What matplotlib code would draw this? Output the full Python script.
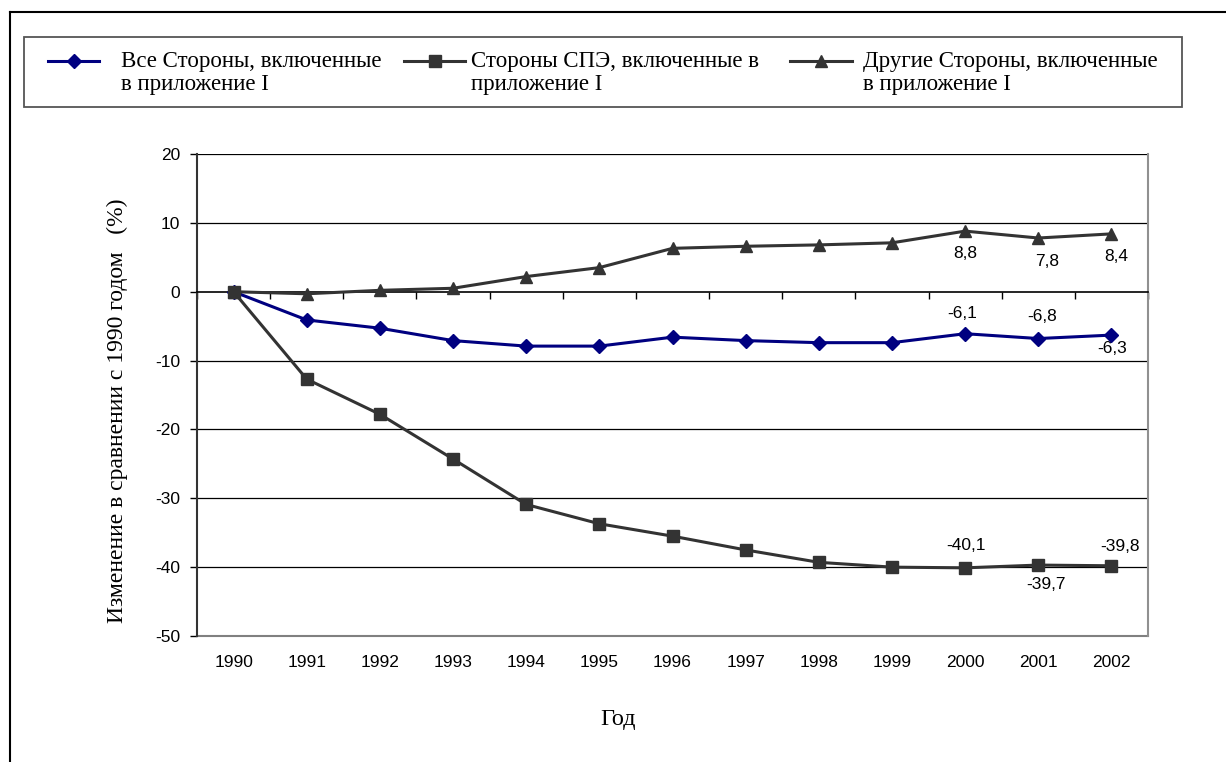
import numpy as np
import matplotlib.pyplot as plt
from matplotlib.lines import Line2D
from matplotlib.patches import Rectangle

# --------------------------------------------------------------------------- #
# Data
# --------------------------------------------------------------------------- #
years = ['1990', '1991', '1992', '1993', '1994', '1995', '1996',
         '1997', '1998', '1999', '2000', '2001', '2002']

allParties = [0.0, -4.1, -5.3, -7.1, -7.9, -7.9, -6.6, -7.1, -7.4, -7.4, -6.1, -6.8, -6.3]
eitParties = [0.0, -12.7, -17.8, -24.3, -30.9, -33.7, -35.5, -37.5, -39.3, -40.0, -40.1, -39.7, -39.8]
otherParties = [0.0, -0.3, 0.2, 0.5, 2.2, 3.5, 6.3, 6.6, 6.8, 7.1, 8.8, 7.8, 8.4]

seriesLabels = [['Все Стороны, включенные', 'в приложение I'],
                ['Стороны СПЭ, включенные в', 'приложение I'],
                ['Другие Стороны, включенные', 'в приложение I']]

# labelled points: (series, index, text)
pointLabels = [(otherParties, 10, '8,8'),
               (otherParties, 11, '7,8'),
               (otherParties, 12, '8,4'),
               (allParties, 10, '-6,1'),
               (allParties, 11, '-6,8'),
               (allParties, 12, '-6,3'),
               (eitParties, 10, '-40,1'),
               (eitParties, 11, '-39,7'),
               (eitParties, 12, '-39,8')]
# label offsets from the marker, in pixels (dx, dy upward)
pointOffsets = [(0, -22), (9, -23), (5, -23),
                (-3, 20), (4, 22), (1, -13),
                (1, 22), (8, -19), (9, 19)]

# --------------------------------------------------------------------------- #
# Plot
# --------------------------------------------------------------------------- #
plt.rcParams['axes.unicode_minus'] = False;
serif = 'Liberation Serif';
sans = 'Liberation Sans';
W = 1226.0;
H = 762.0;

fig = plt.figure(figsize=(12.26, 7.62), dpi=100);
ax = fig.add_axes([197/W, 1-636/H, (1148-197)/W, (636-154)/H]);

x = np.arange(len(years));
dark = '#333333';
navy = '#000080';

lines = [];
lines.append(ax.plot(x, allParties, color=navy, lw=2.2, marker='D', ms=7, zorder=4)[0]);
lines.append(ax.plot(x, eitParties, color=dark, lw=2.2, marker='s', ms=9, zorder=4)[0]);
lines.append(ax.plot(x, otherParties, color=dark, lw=2.2, marker='^', ms=9, zorder=4)[0]);

for (ser, i, txt), (dx, dy) in zip(pointLabels, pointOffsets):
  ax.annotate(txt, (x[i], ser[i]), xytext=(dx*0.72, dy*0.72), textcoords='offset points',
              ha='center', va='center', fontsize=12.5, family=sans);

ax.set_xlim(-0.5, len(years)-0.5);
ax.set_ylim(-50, 20);
ax.set_yticks(np.arange(-50, 21, 10));
for v in np.arange(-40, 21, 10):
  if v != 0:
    ax.axhline(v, color='black', lw=0.9, zorder=1);

# category axis crossing at zero, ticks between categories
ax.spines['bottom'].set_position(('data', 0));
ax.spines['bottom'].set_color('black');
ax.spines['bottom'].set_linewidth(1.2);
ax.set_xticks(np.arange(-0.5, len(years), 1.0));
ax.tick_params(axis='x', direction='out', length=5, width=1, labelbottom=False);

# tick labels at the bottom of the plot area
sec = ax.secondary_xaxis(0.0);
sec.set_xticks(x, years);
sec.tick_params(length=0, pad=14, labelsize=12.5);
for t in sec.get_xticklabels():
  t.set_family(sans);
sec.spines['bottom'].set_color('#808080');
sec.spines['bottom'].set_linewidth(1.5);

ax.spines['top'].set_visible(False);
ax.spines['right'].set_color('#909090');
ax.spines['right'].set_linewidth(1.5);
ax.spines['left'].set_color(dark);
ax.spines['left'].set_linewidth(1.5);
ax.tick_params(axis='y', direction='out', length=5, width=1, labelsize=12.5, pad=7);
for t in ax.get_yticklabels():
  t.set_family(sans);

fig.text(117/W, 1-411/H, 'Изменение в сравнении с 1990 годом   (%)',
         rotation=90, ha='center', va='center', fontsize=17, family=serif);
fig.text(618/W, 1-719/H, 'Год', ha='center', va='center',
         fontsize=17.5, family=serif);

# legend, laid out by hand like the Excel original
fig.add_artist(Rectangle((24/W, 1-107/H), (1182-24)/W, 70/H, transform=fig.transFigure,
                         facecolor='none', edgecolor='#555555', lw=1.3));
handleX = [(48, 99), (404, 465), (790, 852)];
textX = [121, 471, 863];
for ln, (h0, h1), tx, lab in zip(lines, handleX, textX, seriesLabels):
  hy = 1-61/H;
  fig.add_artist(Line2D([h0/W, (h0+h1)/2/W, h1/W], [hy, hy, hy], color=ln.get_color(),
                        lw=ln.get_linewidth(), marker=ln.get_marker(),
                        ms=ln.get_markersize(), markevery=[1]));
  fig.text(tx/W, 1-67/H, lab[0], ha='left', va='baseline', fontsize=16.5, family=serif);
  fig.text(tx/W, 1-90/H, lab[1], ha='left', va='baseline', fontsize=16.5, family=serif);

# outer frame
fig.add_artist(Line2D([10/W, 10/W], [0, 1-12/H], color='black', lw=1.5));
fig.add_artist(Line2D([10/W, 1], [1-12/H, 1-12/H], color='black', lw=1.5));

plt.savefig('out.png', dpi=100);
